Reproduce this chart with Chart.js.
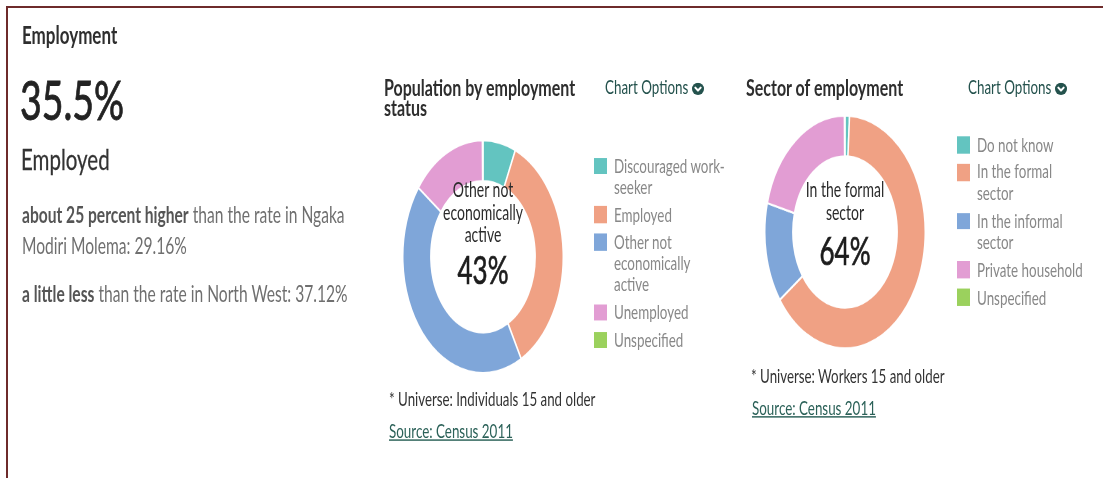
<!DOCTYPE html>
<html>
<head>
<meta charset="utf-8">
<script src="https://cdn.jsdelivr.net/npm/chart.js@4.4.1/dist/chart.umd.min.js"></script>
<style>
  html, body { margin: 0; padding: 0; background: #fff; }
  body { width: 1103px; height: 478px; overflow: hidden; position: relative;
         font-family: Lato, "Open Sans", sans-serif; }
  .rule-top  { position: absolute; left: 6px; top: 6px; right: 0; height: 2px; background: #6e2b2b; }
  .rule-left { position: absolute; left: 6px; top: 6px; width: 2px; bottom: 0; background: #6e2b2b; }
  /* the panel is laid out in a short box and stretched vertically */
  #stage { position: absolute; left: 0; top: 0; width: 1103px; height: 330px;
           transform: scaleY(1.45); transform-origin: 0 0; }
  .t { position: absolute; white-space: nowrap; }
  #head    { left: 22px; top: 14px; font-size: 17px; line-height: 20px; font-weight: 700; color: #2e2e2e; }
  #big     { left: 20px; top: 49px; font-size: 37.5px; line-height: 40px; color: #222;
             -webkit-text-stroke: 0.6px #222; }
  #bigname { left: 21px; top: 98px; font-size: 20.5px; line-height: 22px; color: #333;
             -webkit-text-stroke: 0.2px #333; }
  .cmp     { left: 22px; width: 352px; white-space: normal; font-size: 15.6px; line-height: 20.7px; color: #6f6f6f; }
  .cmp b   { color: #555; font-weight: 700; }
  #cmp1 { top: 138.4px; }
  #cmp2 { top: 192.2px; }
  .title { font-size: 16px; line-height: 14.5px; font-weight: 700; color: #2e2e2e; white-space: normal; }
  #title1 { left: 384px; top: 52.8px; width: 200px; }
  #title2 { left: 746px; top: 52.8px; width: 200px; }
  .opts { font-size: 13.4px; line-height: 16px; color: #24524d; }
  .opts svg { display: inline-block; vertical-align: -1px; margin-left: 4px; }
  #opts1 { left: 605px; top: 52px; }
  #opts2 { left: 968px; top: 52px; }
  .donut { position: absolute; width: 162px; height: 162px; }
  #donut1 { left: 402px; top: 95.9px; }
  #donut2 { left: 764px; top: 79.3px; }
  .centre { position: absolute; width: 110px; text-align: center; color: #2b2b2b; }
  .centre .name { font-size: 14px; line-height: 15.2px; white-space: normal; }
  .centre .pct  { font-size: 26px; line-height: 28px; color: #1c1c1c; -webkit-text-stroke: 0.5px #1c1c1c; }
  #centre1 { left: 428px; top: 123.4px; }
  #centre1 .pct { margin-top: 2.6px; }
  #centre2 { left: 790px; top: 123.4px; }
  #centre2 .pct { margin-top: 4.8px; }
  .legend { position: absolute; }
  .legend .item { position: relative; padding-left: 20px; margin-bottom: 4px;
                  font-size: 13.4px; line-height: 14.83px; color: #888; white-space: normal; }
  .legend .sw { position: absolute; left: 0; top: 1.7px; width: 13px; height: 11.5px; }
  #legend1 { left: 594px; top: 107.1px; width: 133px; }
  #legend2 { left: 957px; top: 92.6px; width: 132px; }
  .note { font-size: 13.3px; line-height: 16px; color: #333; }
  .src  { font-size: 13.4px; line-height: 16px; color: #2b6158; text-decoration: underline; }
  #note1 { left: 389px; top: 266.5px; }
  #src1  { left: 389px; top: 289.2px; }
  #note2 { left: 751px; top: 251.3px; }
  #src2  { left: 752px; top: 273.4px; }
</style>
</head>
<body>
<div class="rule-top"></div>
<div class="rule-left"></div>

<div id="stage">
  <div class="t" id="head">Employment</div>
  <div class="t" id="big"></div>
  <div class="t" id="bigname"></div>
  <div class="t cmp" id="cmp1"></div>
  <div class="t cmp" id="cmp2"></div>

  <div class="t title" id="title1">Population by employment status</div>
  <div class="t opts" id="opts1">Chart Options<svg width="12" height="8.6" viewBox="0 0 12 12" preserveAspectRatio="none"><circle cx="6" cy="6" r="6" fill="#24524d"/><path d="M3.3 4.8 L6 7.6 L8.7 4.8" stroke="#fff" stroke-width="2" fill="none" stroke-linecap="round" stroke-linejoin="round"/></svg></div>
  <div class="donut" id="donut1"><canvas id="chart1"></canvas></div>
  <div class="centre" id="centre1"><div class="name"></div><div class="pct"></div></div>
  <div class="legend" id="legend1"></div>
  <div class="t note" id="note1">* Universe: Individuals 15 and older</div>
  <div class="t src" id="src1">Source: Census 2011</div>

  <div class="t title" id="title2">Sector of employment</div>
  <div class="t opts" id="opts2">Chart Options<svg width="12" height="8.6" viewBox="0 0 12 12" preserveAspectRatio="none"><circle cx="6" cy="6" r="6" fill="#24524d"/><path d="M3.3 4.8 L6 7.6 L8.7 4.8" stroke="#fff" stroke-width="2" fill="none" stroke-linecap="round" stroke-linejoin="round"/></svg></div>
  <div class="donut" id="donut2"><canvas id="chart2"></canvas></div>
  <div class="centre" id="centre2"><div class="name"></div><div class="pct"></div></div>
  <div class="legend" id="legend2"></div>
  <div class="t note" id="note2">* Universe: Workers 15 and older</div>
  <div class="t src" id="src2">Source: Census 2011</div>
</div>

<script>
// Headline figure and comparisons (percent)
const employedRate = 35.5;
const districtName = "Ngaka Modiri Molema";
const districtRate = 29.16;
const provinceName = "North West";
const provinceRate = 37.12;

// Population by employment status (percent of individuals 15+)
const statusLabels = ["Discouraged work-seeker", "Employed", "Other not economically active", "Unemployed", "Unspecified"];
const statusValues = [6.6, 35.5, 43.0, 14.8, 0.1];

// Sector of employment (percent of workers 15+)
const sectorLabels = ["Do not know", "In the formal sector", "In the informal sector", "Private household", "Unspecified"];
const sectorValues = [0.9, 64.2, 13.9, 20.9, 0.1];

const sliceColors = ["#63c4c0", "#f0a184", "#7fa6d9", "#e29dd3", "#9bd15d"];

document.getElementById("big").textContent = employedRate.toFixed(1) + "%";
document.getElementById("bigname").textContent = "Employed";

// each word is its own inline box so the sentence can wrap freely
function comparison(id, phrase, place, rate) {
  const box = document.getElementById(id);
  const b = document.createElement("b");
  b.textContent = phrase;
  box.appendChild(b);
  const words = ("than the rate in " + place + ": " + rate.toFixed(2) + "%").split(" ");
  words.forEach(w => {
    box.appendChild(document.createTextNode(" "));
    const s = document.createElement("span");
    s.textContent = w;
    box.appendChild(s);
  });
}
comparison("cmp1", "about 25 percent higher", districtName, districtRate);
comparison("cmp2", "a little less", provinceName, provinceRate);

function buildLegend(id, labels) {
  const box = document.getElementById(id);
  labels.forEach((lab, i) => {
    const item = document.createElement("div");
    item.className = "item";
    const sw = document.createElement("span");
    sw.className = "sw";
    sw.style.background = sliceColors[i];
    item.appendChild(sw);
    item.appendChild(document.createTextNode(lab));
    box.appendChild(item);
  });
}

function centreLabel(id, labels, values) {
  const total = values.reduce((a, b) => a + b, 0);
  let k = 0;
  values.forEach((v, i) => { if (v > values[k]) k = i; });
  const box = document.getElementById(id);
  box.querySelector(".name").textContent = labels[k];
  box.querySelector(".pct").textContent = Math.round(values[k] / total * 100) + "%";
}

function donut(canvasId, labels, values) {
  return new Chart(document.getElementById(canvasId), {
    type: "doughnut",
    data: {
      labels: labels,
      datasets: [{
        data: values,
        backgroundColor: sliceColors,
        borderColor: "#ffffff",
        borderWidth: 1.5,
        hoverOffset: 0
      }]
    },
    options: {
      responsive: true,
      maintainAspectRatio: false,
      animation: false,
      devicePixelRatio: 2,
      cutout: "65%",
      events: [],
      layout: { padding: 0 },
      plugins: { legend: { display: false }, tooltip: { enabled: false } }
    }
  });
}

buildLegend("legend1", statusLabels);
buildLegend("legend2", sectorLabels);
centreLabel("centre1", statusLabels, statusValues);
centreLabel("centre2", sectorLabels, sectorValues);
donut("chart1", statusLabels, statusValues);
donut("chart2", sectorLabels, sectorValues);
</script>
</body>
</html>
